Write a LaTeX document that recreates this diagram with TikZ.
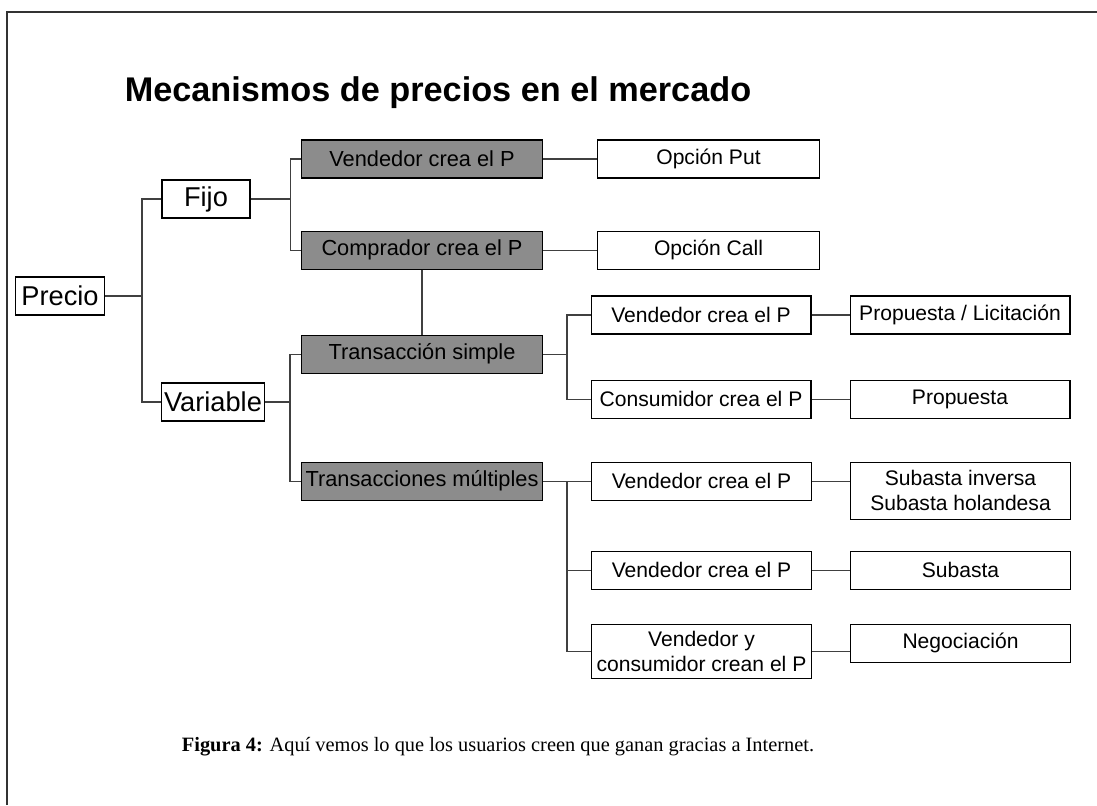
\documentclass[tikz,border=0pt]{standalone}
\usepackage{fontspec}
\setmainfont{Liberation Serif}
\setsansfont{Liberation Sans}
\usetikzlibrary{positioning}

\begin{document}
\begin{tikzpicture}[
    x=0.02cm, y=-0.02cm,
    box/.style={draw, line width=0.6pt, fill=white,
                minimum height=0.76cm, inner sep=1pt,
                font=\sffamily\fontsize{12}{14}\selectfont, align=center},
    root/.style={box, font=\sffamily\fontsize{15.5}{18}\selectfont},
    greybox/.style={box, fill=black!45, minimum width=4.82cm,
                    font=\sffamily\fontsize{12.4}{14}\selectfont},
    leaf/.style={box, minimum width=4.4cm},
    link/.style={draw=black!75, line width=0.6pt}
  ]

  \useasboundingbox (0,0) rectangle (1097,805);
  \draw[line width=1.2pt, black!80] (7,805) -- (7,12) -- (1097,12);

  \node[font=\sffamily\bfseries\fontsize{19.5}{23}\selectfont] (title) at (438,93)
    {Mecanismos de precios en el mercado};

  \node[root, minimum width=1.78cm] (precio) at (60,296) {Precio};
  \node[root, minimum width=1.76cm] (fijo) at (206,199) {Fijo};
  \node[root, minimum width=2.06cm] (variable) at (213,402) {Variable};

  \node[greybox] (fvend) at (422,159) {Vendedor crea el P};
  \node[greybox, below=1.04cm of fvend] (fcomp) {Comprador crea el P};
  \node[greybox, below=1.3cm of fcomp] (tsimple) {Transacción simple};
  \node[greybox, below=1.76cm of tsimple] (tmult) {Transacciones múltiples};

  \node[box, minimum width=4.44cm, right=1.08cm of fvend] (put) {Opción Put};
  \node[box, minimum width=4.44cm, right=1.08cm of fcomp] (call) {Opción Call};

  \node[leaf] (svend) at (701,315) {Vendedor crea el P};
  \node[leaf, below=0.9cm of svend] (scons) {Consumidor crea el P};
  \node[leaf, right=0.96cm of tmult] (tm1) {Vendedor crea el P};
  \node[leaf, below=1.0cm of tm1] (tm2) {Vendedor crea el P};
  \node[leaf, minimum height=1.08cm, below=0.68cm of tm2] (tm3)
    {Vendedor y\\consumidor crean el P};

  \node[leaf, right=0.76cm of svend.north east, anchor=north west] (lic) {Propuesta / Licitación};
  \node[leaf, right=0.76cm of scons.north east, anchor=north west] (prop) {Propuesta};
  \node[leaf, minimum height=1.14cm, right=0.76cm of tm1.north east, anchor=north west] (subinv)
    {Subasta inversa\\Subasta holandesa};
  \node[leaf, right=0.76cm of tm2.north east, anchor=north west] (sub) {Subasta};
  \node[leaf, right=0.76cm of tm3.north east, anchor=north west] (nego) {Negociación};

  % tree links
  \draw[link] (precio.east) -- ++(37,0) coordinate (j1);
  \draw[link] (fijo.west) -| (j1) |- (variable.west);
  \draw[link] (fijo.east) -- ++(40,0) coordinate (j2);
  \draw[link] (fvend.west) -| (j2) |- (fcomp.west);
  \draw[link] (variable.east) -- ++(25,0) coordinate (j3);
  \draw[link] (tsimple.west) -| (j3) |- (tmult.west);
  \draw[link] (fcomp) -- (tsimple);
  \draw[link] (fvend) -- (put);
  \draw[link] (fcomp) -- (call);

  \draw[link] (tsimple.east) -- ++(24,0) coordinate (j4);
  \draw[link] (svend.west) -| (j4) |- (scons.west);
  \draw[link] (tmult) -- (tm1);
  \path (tmult.east) ++(24,0) coordinate (j5);
  \draw[link] (j5) |- (tm2.west);
  \draw[link] (j5) |- (tm3.west);

  \draw[link] (svend.east) -- (svend.east -| lic.west);
  \draw[link] (scons.east) -- (scons.east -| prop.west);
  \draw[link] (tm1.east) -- (tm1.east -| subinv.west);
  \draw[link] (tm2.east) -- (tm2.east -| sub.west);
  \draw[link] (tm3.east) -- (tm3.east -| nego.west);

  \node[font=\fontsize{11.6}{13}\selectfont] (caption) at (498,747)
    {\textbf{Figura 4:} Aquí vemos lo que los usuarios creen que ganan gracias a Internet.};

\end{tikzpicture}
\end{document}
